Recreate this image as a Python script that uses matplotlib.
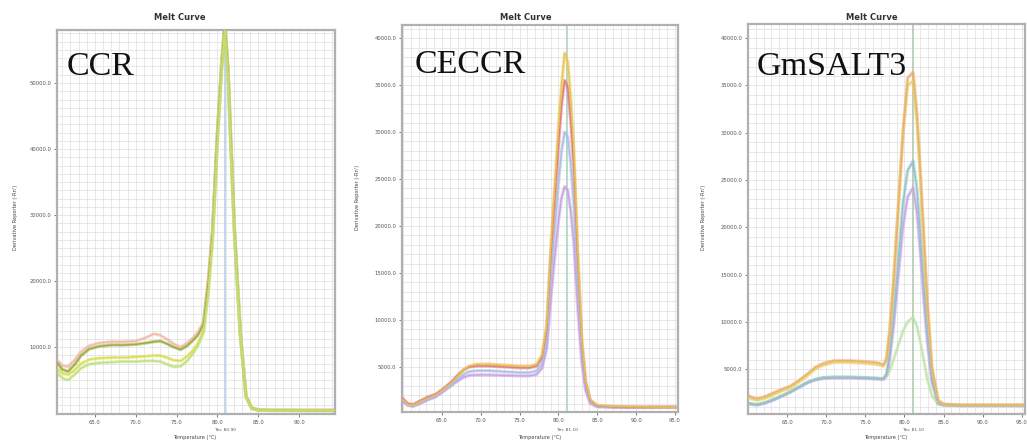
import matplotlib
matplotlib.use("Agg")
import matplotlib.pyplot as plt
from matplotlib.ticker import MultipleLocator, FixedLocator

# ---------------- data ----------------
# Panel 1: CCR
T1 = [60.4, 61.0, 61.7, 62.5, 63.3, 64.3, 65.5, 67.0, 68.5, 70.0, 71.2, 72.2, 73.0, 73.8,
      74.6, 75.5, 76.3, 77.0, 77.6, 78.3, 78.9, 79.4, 80.0, 80.5, 80.9, 81.3, 81.6, 82.1,
      82.8, 83.5, 84.2, 85.0, 86.5, 88.5, 91.0, 94.3]
ccr_pink = [8000, 7200, 7000, 8000, 9300, 10200, 10600, 10800, 10800, 10900, 11400, 12000, 11800, 11200,
            10500, 10000, 10600, 11400, 12200, 13800, 20500, 27800, 42800, 52800, 59000, 52200, 42600, 27500,
            12300, 2600, 800, 500, 450, 450, 450, 450]
ccr_olive = [7600, 6600, 6300, 7300, 8700, 9700, 10100, 10300, 10300, 10400, 10600, 10800, 10900, 10500,
             10000, 9600, 10200, 11000, 11800, 13500, 20000, 27300, 42400, 52400, 59000, 52000, 42400, 27300,
             12100, 2500, 700, 450, 400, 400, 380, 380]
ccr_yellow = [6800, 6000, 5800, 6500, 7500, 8100, 8300, 8400, 8400, 8500, 8600, 8700, 8700, 8400,
              8000, 7900, 8600, 9500, 10500, 12500, 19000, 26500, 41500, 52000, 58500, 51500, 42000, 27000,
              12000, 2500, 700, 450, 400, 400, 380, 380]
ccr_green = [6000, 5300, 5000, 5800, 6800, 7400, 7600, 7700, 7800, 7800, 7900, 7900, 7800, 7400,
             7000, 7100, 7900, 9000, 10200, 12200, 18500, 26000, 41000, 51500, 58000, 51000, 41500, 26500,
             11800, 2400, 700, 450, 400, 400, 380, 380]
ccr_yticks = [10000, 20000, 30000, 40000, 50000]
ccr_xticks = [65, 70, 75, 80, 85, 90]
ccr_tm = 80.9

# Panel 2: CECCR
T2 = [60.0, 60.6, 61.3, 62.2, 63.2, 64.2, 65.2, 66.2, 67.0, 67.8, 68.5, 69.5, 71.0, 73.0, 75.0,
      76.3, 77.2, 77.9, 78.5, 79.0, 79.5, 80.0, 80.4, 80.8, 81.2, 81.6, 82.0, 82.5, 83.0, 83.5,
      84.1, 85.0, 87.0, 90.0, 93.0, 95.0]
ceccr_yellow = [1500, 1000, 900, 1300, 1700, 2000, 2600, 3300, 4000, 4700, 5100, 5300, 5300, 5200, 5100,
                5100, 5300, 6300, 9500, 17500, 24000, 30500, 35000, 38400, 37500, 33500, 28000, 17000, 8000, 3500,
                1500, 900, 800, 750, 700, 700]
ceccr_red = [1600, 1100, 1000, 1400, 1800, 2100, 2700, 3400, 4100, 4700, 5000, 5100, 5100, 5000, 4900,
             4900, 5100, 6000, 9000, 16500, 22500, 28500, 32800, 35500, 34800, 31000, 26000, 16000, 7600, 3300,
             1400, 850, 750, 700, 700, 700]
ceccr_blue = [1400, 950, 850, 1200, 1600, 1900, 2500, 3100, 3700, 4200, 4500, 4600, 4600, 4500, 4400,
              4400, 4600, 5400, 7800, 14000, 19500, 24500, 28000, 30000, 29500, 26500, 22000, 13500, 6500, 2800,
              1200, 800, 750, 700, 700, 700]
ceccr_purple = [1300, 900, 800, 1100, 1500, 1800, 2400, 3000, 3500, 3900, 4100, 4150, 4150, 4100, 4050,
                4050, 4200, 4900, 7000, 12000, 16500, 20500, 23000, 24200, 23800, 21500, 18000, 11000, 5500, 2500,
                1100, 750, 700, 700, 700, 700]
ceccr_yticks = [5000, 10000, 15000, 20000, 25000, 30000, 35000, 40000]
ceccr_xticks = [65, 70, 75, 80, 85, 90, 95]
ceccr_tm = 81.1

# Panel 3: GmSALT3
T3 = [60.0, 60.6, 61.2, 62.2, 63.3, 64.4, 65.4, 66.5, 67.6, 68.6, 69.6, 71.0, 73.0, 75.0, 76.3,
      76.9, 77.3, 77.7, 78.1, 78.6, 79.0, 79.4, 79.8, 80.4, 81.1, 81.6, 82.0, 82.5, 82.9, 83.5,
      84.3, 85.0, 87.0, 90.0, 93.0, 95.4]
gm_orange = [2200, 2000, 1900, 2100, 2500, 2900, 3200, 3800, 4500, 5200, 5600, 5900, 5900, 5800, 5700,
             5600, 5400, 6000, 8800, 14000, 19300, 24500, 29900, 35800, 36400, 32000, 26300, 18500, 12300, 5200,
             1700, 1300, 1200, 1200, 1200, 1200]
gm_yellow = [2000, 1800, 1700, 1900, 2300, 2700, 3000, 3600, 4300, 5000, 5400, 5700, 5700, 5600, 5500,
             5400, 5300, 6300, 9200, 14500, 19800, 25000, 30000, 35000, 35500, 31000, 25500, 18000, 11800, 5000,
             1600, 1250, 1200, 1200, 1200, 1200]
gm_cyan = [1400, 1300, 1250, 1450, 1800, 2200, 2600, 3100, 3600, 3900, 4100, 4150, 4150, 4100, 4050,
           4000, 4000, 4500, 6500, 10500, 14500, 18500, 22500, 26000, 27000, 24000, 19500, 13500, 9000, 4000,
           1400, 1200, 1150, 1150, 1150, 1150]
gm_purple = [1350, 1250, 1200, 1400, 1750, 2150, 2550, 3050, 3550, 3850, 4000, 4050, 4050, 4000, 3950,
             3900, 3900, 4300, 6000, 9500, 13000, 16500, 20000, 23200, 24200, 21500, 17500, 12000, 8000, 3600,
             1350, 1200, 1150, 1150, 1150, 1150]
gm_green = [1400, 1300, 1250, 1450, 1800, 2200, 2600, 3100, 3600, 3900, 4100, 4150, 4150, 4100, 4050,
            4000, 4000, 4200, 4800, 6000, 7000, 8000, 9000, 10000, 10500, 9500, 8000, 5800, 4000, 2200,
            1300, 1200, 1150, 1150, 1150, 1150]
gm_yticks = [5000, 10000, 15000, 20000, 25000, 30000, 35000, 40000]
gm_xticks = [65, 70, 75, 80, 85, 90, 95]
gm_tm = 81.1

labels = ["CCR", "CECCR", "GmSALT3"]

# ---------------- figure ----------------
W, H = 1027, 441
fig = plt.figure(figsize=(W / 100, H / 100), dpi=100)
fig.patch.set_facecolor("white")


def ax_rect(l, r, t, b):
    return [l / W, 1 - b / H, (r - l) / W, (b - t) / H]


panels = [
    dict(rect=ax_rect(57, 335, 30, 414), xlim=(60.35, 94.4), ylim=(-150, 58030),
         xticks=ccr_xticks, yticks=ccr_yticks, yminor=1250, tm=ccr_tm, tmcol="#b4cce8",
         T=T1,
         series=[(ccr_pink, "#f2b9a6"), (ccr_olive, "#9aa83c"), (ccr_yellow, "#d9df4c"),
                 (ccr_green, "#bfe07c")],
         label=labels[0], lx=67, ly=75, title_x=180, ylab_x=15, ylab_y=217, xlab_x=195),
    dict(rect=ax_rect(402, 678, 25, 412), xlim=(59.85, 95.4), ylim=(200, 41400),
         xticks=ceccr_xticks, yticks=ceccr_yticks, yminor=1000, tm=ceccr_tm, tmcol="#a8d4c4",
         T=T2,
         series=[(ceccr_purple, "#c8a2e2"), (ceccr_blue, "#a9bfe6"), (ceccr_red, "#e07a80"),
                 (ceccr_yellow, "#e8c54e")],
         label=labels[1], lx=415, ly=73, title_x=526, ylab_x=357, ylab_y=197, xlab_x=540),
    dict(rect=ax_rect(748, 1025, 24, 414), xlim=(60.0, 95.4), ylim=(250, 41500),
         xticks=gm_xticks, yticks=gm_yticks, yminor=1000, tm=gm_tm, tmcol="#b0c8b0",
         T=T3,
         series=[(gm_green, "#bfe4a8"), (gm_purple, "#c6a6e4"), (gm_cyan, "#8fc4c8"),
                 (gm_yellow, "#e4d46a"), (gm_orange, "#eeae6c")],
         label=labels[2], lx=757, ly=75, title_x=872, ylab_x=703, ylab_y=217, xlab_x=886),
]

for p in panels:
    ax = fig.add_axes(p["rect"])
    ax.set_facecolor("white")
    ax.set_xlim(*p["xlim"])
    ax.set_ylim(*p["ylim"])
    ax.xaxis.set_major_locator(FixedLocator(p["xticks"]))
    ax.yaxis.set_major_locator(FixedLocator(p["yticks"]))
    ax.xaxis.set_minor_locator(MultipleLocator(1))
    ax.yaxis.set_minor_locator(MultipleLocator(p["yminor"]))
    ax.set_xticklabels([f"{v:.1f}" for v in p["xticks"]], fontsize=3.8, color="#555555")
    ax.set_yticklabels([f"{v:.1f}" for v in p["yticks"]], fontsize=3.8, color="#555555")
    ax.tick_params(which="major", length=2.5, width=0.6, color="#666666", pad=1.5)
    ax.tick_params(which="minor", length=0)
    ax.grid(which="both", color="#e2e2e2", lw=0.55)
    ax.set_axisbelow(True)
    for s in ax.spines.values():
        s.set_color("#b0b0b0")
        s.set_linewidth(1.6)

    ax.axvline(p["tm"], color=p["tmcol"], lw=1.1, zorder=1.5)

    for vals, col in p["series"]:
        ax.plot(p["T"], vals, color=col, lw=2.4, alpha=0.5, solid_joinstyle="round", zorder=2)
        ax.plot(p["T"], vals, color=col, lw=1.0, alpha=0.95, solid_joinstyle="round", zorder=3)

    # labels around axes
    fig.text(p["title_x"] / W, 1 - 17 / H, "Melt Curve", fontsize=6, fontweight="bold",
             ha="center", va="center", color="#333333")
    fig.text(p["ylab_x"] / W, 1 - p["ylab_y"] / H, "Derivative Reporter (-Rn')", fontsize=3.6,
             rotation=90, ha="center", va="center", color="#444444")
    fig.text(p["xlab_x"] / W, 1 - 437 / H, "Temperature (°C)", fontsize=3.6,
             ha="center", va="center", color="#444444")
    xt = ax.transData.transform((p["tm"], 0))[0]
    fig.text(xt / W, 1 - 430 / H, f"Tm: {p['tm']:.2f}", fontsize=3.2,
             ha="center", va="center", color="#555555")
    fig.text(p["lx"] / W, 1 - p["ly"] / H, p["label"], fontsize=24.5,
             family="Liberation Serif", ha="left", va="baseline", color="#111111")

fig.savefig("out.png", dpi=100, facecolor="white")
